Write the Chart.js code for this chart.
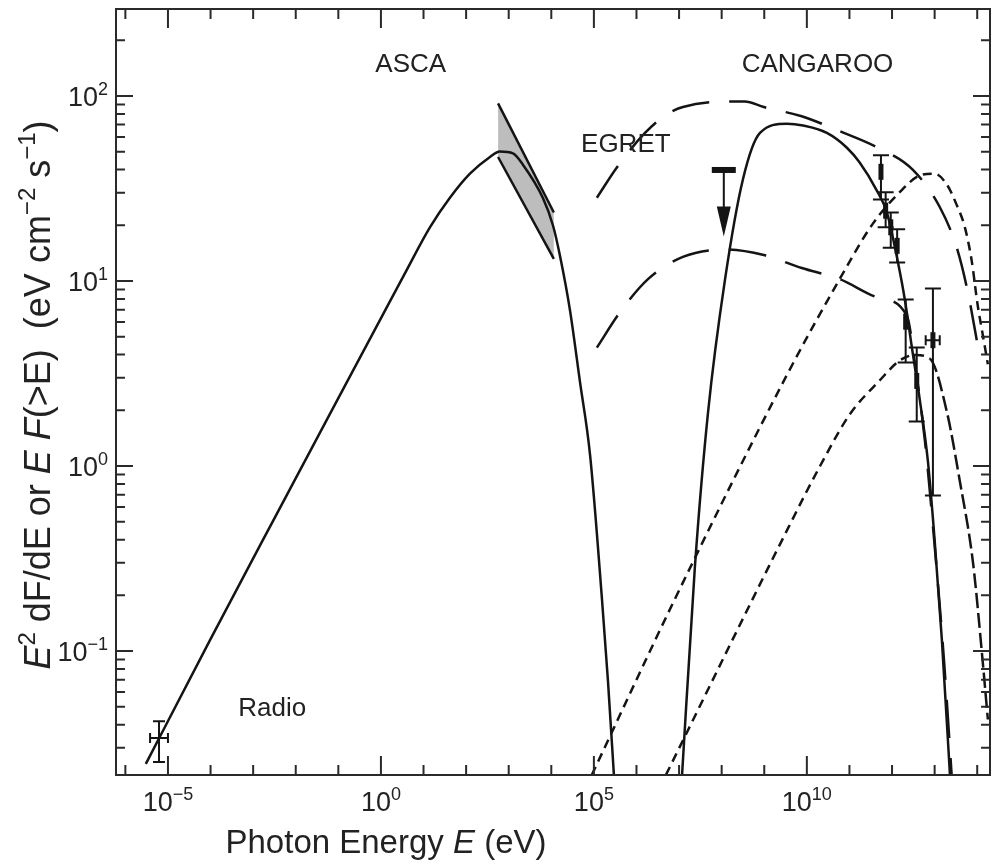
<!DOCTYPE html>
<html>
<head>
<meta charset="utf-8">
<script src="https://cdn.jsdelivr.net/npm/chart.js@4.4.0/dist/chart.umd.min.js"></script>
<style>
  html, body { margin: 0; padding: 0; background: #fff; }
  canvas { display: block; }
</style>
</head>
<body>
<canvas id="chart" width="994" height="864"></canvas>
<script>
// all values are log10: photon energy in eV, flux E^2 dF/dE in eV cm^-2 s^-1

// synchrotron model (solid)
const syncE = [-5.52, -4.01, -2.61, -1.20, -0.02, 0.56, 1.15, 1.62, 2.09, 2.56, 2.79, 3.10, 3.33, 3.80, 4.04, 4.20, 4.44, 4.67, 4.91, 5.19, 5.33, 5.47];
const syncF = [-1.61, -0.94, -0.33, 0.28, 0.79, 1.04, 1.29, 1.45, 1.58, 1.67, 1.70, 1.69, 1.63, 1.45, 1.30, 1.14, 0.84, 0.46, 0.06, -0.72, -1.16, -1.67];

// inverse Compton model (solid)
const icE = [7.07, 7.37, 7.68, 8.08, 8.50, 8.90, 9.53, 9.91, 10.47, 10.94, 11.24, 11.64, 11.88, 12.14, 12.30, 12.46, 12.65, 12.84, 13.00, 13.17, 13.36];
const icF = [-1.67, -0.55, 0.29, 1.01, 1.55, 1.80, 1.85, 1.84, 1.80, 1.72, 1.64, 1.49, 1.37, 1.10, 0.90, 0.65, 0.36, 0.03, -0.40, -0.94, -1.67];

// long dashed curves (upper and lower)
const egretHiE = [5.07, 5.56, 6.20, 6.71, 7.09, 8.08, 8.54, 8.99, 9.88, 10.77, 11.67, 12.49, 13.12, 13.52, 13.78, 13.99];
const egretHiF = [1.45, 1.62, 1.80, 1.90, 1.94, 1.97, 1.97, 1.94, 1.89, 1.81, 1.72, 1.60, 1.40, 1.18, 0.94, 0.68];
const egretLoE = [5.07, 5.61, 6.27, 7.09, 8.08, 8.99, 9.88, 10.77, 11.67, 12.35, 12.54, 12.77, 13.00, 13.22, 13.40];
const egretLoF = [0.64, 0.83, 1.01, 1.13, 1.17, 1.14, 1.07, 1.01, 0.91, 0.81, 0.55, 0.14, -0.43, -1.05, -1.67];

// short dashed curves
const dashHiE = [4.95, 6.90, 9.55, 10.77, 11.55, 12.18, 12.65, 13.00, 13.29, 13.52, 13.71, 13.87, 14.01, 14.13, 14.25];
const dashHiF = [-1.67, -0.72, 0.50, 1.01, 1.31, 1.48, 1.57, 1.58, 1.52, 1.41, 1.29, 1.11, 0.87, 0.71, 0.55];
const dashLoE = [6.69, 9.55, 10.31, 11.01, 11.70, 12.18, 12.54, 12.89, 13.29, 13.59, 13.90, 14.11, 14.25];
const dashLoF = [-1.67, -0.34, 0.00, 0.28, 0.46, 0.57, 0.60, 0.58, 0.29, -0.08, -0.52, -1.01, -1.37];

// ASCA bow tie
const ascaE = [2.75, 4.06];
const ascaHi = [1.96, 1.37];
const ascaLo = [1.67, 1.12];

// CANGAROO points
const canE = [11.74, 11.85, 11.97, 12.12, 12.32, 12.58, 12.96];
const canF = [1.59, 1.38, 1.29, 1.19, 0.78, 0.46, 0.68];
const canHi = [1.68, 1.48, 1.37, 1.28, 0.90, 0.64, 0.96];
const canLo = [1.44, 1.29, 1.18, 1.10, 0.56, 0.24, -0.16];
const canEmin = [null, null, null, null, null, null, 12.79];
const canEmax = [null, null, null, null, null, null, 13.12];

// radio point
const radioE = [-5.21];
const radioF = [-1.47];
const radioHi = [-1.38];
const radioLo = [-1.60];
const radioEmin = [-5.42];
const radioEmax = [-5.00];

// EGRET upper limit
const ulE = [8.05];
const ulF = [1.60];
const ulTip = [1.24];

// axes
const xTicks = [-5, 0, 5, 10];
const xTickLabels = ['\u22125', '0', '5', '10'];
const yTicks = [-1, 0, 1, 2];
const yTickLabels = ['\u22121', '0', '1', '2'];

const labels = [
  { text: 'ASCA', e: 0.70, f: 2.17 },
  { text: 'CANGAROO', e: 10.25, f: 2.17 },
  { text: 'EGRET', e: 5.75, f: 1.735 },
  { text: 'Radio', e: -2.55, f: -1.31 }
];

const ink = '#141414';
const FONT = '"Liberation Sans", Arial, Helvetica, sans-serif';

function pts(xs, ys) {
  return xs.map((x, i) => ({ x: x, y: ys[i] }));
}

function curve(xs, ys, dash) {
  return {
    data: pts(xs, ys),
    borderColor: ink,
    borderWidth: 2.5,
    borderDash: dash || [],
    pointRadius: 0,
    cubicInterpolationMode: 'monotone',
    fill: false
  };
}

function drawRuns(ctx, runs, size, x, y, align) {
  const font = st => (st === 'i' ? 'italic ' : '') + (st === 's' ? Math.round(size * 0.66) : size) + 'px ' + FONT;
  let total = 0;
  runs.forEach(r => { ctx.font = font(r[1]); total += ctx.measureText(r[0]).width; });
  let cx = align === 'center' ? x - total / 2 : align === 'right' ? x - total : x;
  ctx.textAlign = 'left';
  ctx.textBaseline = 'alphabetic';
  runs.forEach(r => {
    ctx.font = font(r[1]);
    ctx.fillText(r[0], cx, r[1] === 's' ? y - size * 0.42 : y);
    cx += ctx.measureText(r[0]).width;
  });
}

const frame = {
  id: 'frame',
  afterDatasetsDraw(chart) {
    const { ctx, chartArea: a, scales: { x, y } } = chart;
    ctx.save();
    ctx.strokeStyle = ink;
    ctx.fillStyle = ink;

    // error bars
    ctx.lineWidth = 2;
    const vbar = (e, lo, hi, cap) => {
      const px = x.getPixelForValue(e);
      const p1 = y.getPixelForValue(lo), p2 = y.getPixelForValue(hi);
      ctx.beginPath();
      ctx.moveTo(px, p1); ctx.lineTo(px, p2);
      ctx.moveTo(px - cap, p1); ctx.lineTo(px + cap, p1);
      ctx.moveTo(px - cap, p2); ctx.lineTo(px + cap, p2);
      ctx.stroke();
    };
    const hbar = (e0, e1, f) => {
      const p1 = x.getPixelForValue(e0), p2 = x.getPixelForValue(e1);
      const py = y.getPixelForValue(f);
      ctx.beginPath();
      ctx.moveTo(p1, py); ctx.lineTo(p2, py);
      ctx.moveTo(p1, py - 5); ctx.lineTo(p1, py + 5);
      ctx.moveTo(p2, py - 5); ctx.lineTo(p2, py + 5);
      ctx.stroke();
    };
    canE.forEach((e, i) => {
      vbar(e, canLo[i], canHi[i], 8);
      if (canEmin[i] !== null) hbar(canEmin[i], canEmax[i], canF[i]);
    });
    radioE.forEach((e, i) => {
      vbar(e, radioLo[i], radioHi[i], 6);
      hbar(radioEmin[i], radioEmax[i], radioF[i]);
    });

    // upper limit with arrow
    ulE.forEach((e, i) => {
      const px = x.getPixelForValue(e);
      const top = y.getPixelForValue(ulF[i]);
      const tip = y.getPixelForValue(ulTip[i]);
      ctx.fillRect(px - 12, top - 3, 24, 6);
      ctx.lineWidth = 2;
      ctx.beginPath();
      ctx.moveTo(px, top); ctx.lineTo(px, tip - 20);
      ctx.stroke();
      ctx.beginPath();
      ctx.moveTo(px - 7, tip - 30); ctx.lineTo(px + 7, tip - 30); ctx.lineTo(px, tip);
      ctx.closePath();
      ctx.fill();
    });

    // frame and inward ticks
    ctx.lineWidth = 2;
    ctx.strokeStyle = '#2a2a2a';
    ctx.strokeRect(a.left, a.top, a.right - a.left, a.bottom - a.top);
    ctx.beginPath();
    for (let d = Math.ceil(x.min); d <= Math.floor(x.max); d++) {
      const px = x.getPixelForValue(d);
      const len = d % 5 === 0 ? 19 : 10;
      ctx.moveTo(px, a.bottom); ctx.lineTo(px, a.bottom - len);
      ctx.moveTo(px, a.top); ctx.lineTo(px, a.top + len);
    }
    for (let d = -2; d <= 2; d++) {
      for (let k = 1; k <= 9; k++) {
        const v = d + Math.log10(k);
        if (v < y.min || v > y.max) continue;
        const py = y.getPixelForValue(v);
        const len = k === 1 ? 17 : 9;
        ctx.moveTo(a.left, py); ctx.lineTo(a.left + len, py);
        ctx.moveTo(a.right, py); ctx.lineTo(a.right - len, py);
      }
    }
    ctx.stroke();

    // tick labels
    ctx.fillStyle = '#222';
    xTicks.forEach((t, i) => {
      drawRuns(ctx, [['10', ''], [xTickLabels[i], 's']], 27, x.getPixelForValue(t), a.bottom + 36, 'center');
    });
    yTicks.forEach((t, i) => {
      drawRuns(ctx, [['10', ''], [yTickLabels[i], 's']], 27, a.left - 8, y.getPixelForValue(t) + 10, 'right');
    });

    // axis titles
    drawRuns(ctx, [['Photon Energy ', ''], ['E', 'i'], [' (eV)', '']], 33, 386, 853, 'center');
    ctx.save();
    ctx.translate(50, 395);
    ctx.rotate(-Math.PI / 2);
    drawRuns(ctx, [
      ['E', 'i'], ['2', 's'], [' dF/dE or ', ''], ['E', 'i'], [' ', ''], ['F', 'i'],
      ['(>E)  (eV cm', ''], ['\u22122', 's'], [' s', ''], ['\u22121', 's'], [')', '']
    ], 36, 0, 0, 'center');
    ctx.restore();

    // annotations
    ctx.font = '26px ' + FONT;
    ctx.textAlign = 'center';
    ctx.textBaseline = 'middle';
    labels.forEach(l => ctx.fillText(l.text, x.getPixelForValue(l.e), y.getPixelForValue(l.f)));
    ctx.restore();
  }
};

const dashLo = curve(dashLoE, dashLoF, [9, 6]);
dashLo.segment = { borderDash: c => (c.p0DataIndex >= 7 ? [15, 5] : undefined) };

new Chart(document.getElementById('chart'), {
  type: 'line',
  data: {
    datasets: [
      curve(syncE, syncF),
      curve(icE, icF),
      curve(egretHiE, egretHiF, [38, 20]),
      curve(egretLoE, egretLoF, [38, 20]),
      curve(dashHiE, dashHiF, [9, 6]),
      dashLo,
      {
        type: 'scatter',
        data: pts(canE, canF),
        pointStyle: 'line',
        rotation: 90,
        pointRadius: 8,
        borderWidth: 5,
        borderColor: ink,
        showLine: false
      },
      {
        data: pts(ascaE, ascaHi),
        borderColor: ink,
        borderWidth: 2.5,
        pointRadius: 0,
        backgroundColor: '#bdbdbd',
        fill: '+1',
        tension: 0,
        order: 11
      },
      {
        data: pts(ascaE, ascaLo),
        borderColor: ink,
        borderWidth: 2.5,
        pointRadius: 0,
        fill: false,
        tension: 0,
        order: 10
      }
    ]
  },
  options: {
    responsive: false,
    animation: false,
    devicePixelRatio: 1,
    layout: { autoPadding: false, padding: { top: 9, right: 4, left: 0, bottom: 0 } },
    plugins: { legend: { display: false }, tooltip: { enabled: false } },
    scales: {
      x: {
        type: 'linear', min: -6.22, max: 14.3,
        grid: { display: false }, border: { display: false },
        ticks: { display: false },
        afterFit: s => { s.height = 89; }
      },
      y: {
        type: 'linear', min: -1.67, max: 2.47,
        grid: { display: false }, border: { display: false },
        ticks: { display: false },
        afterFit: s => { s.width = 116; }
      }
    }
  },
  plugins: [frame]
});
</script>
</body>
</html>
